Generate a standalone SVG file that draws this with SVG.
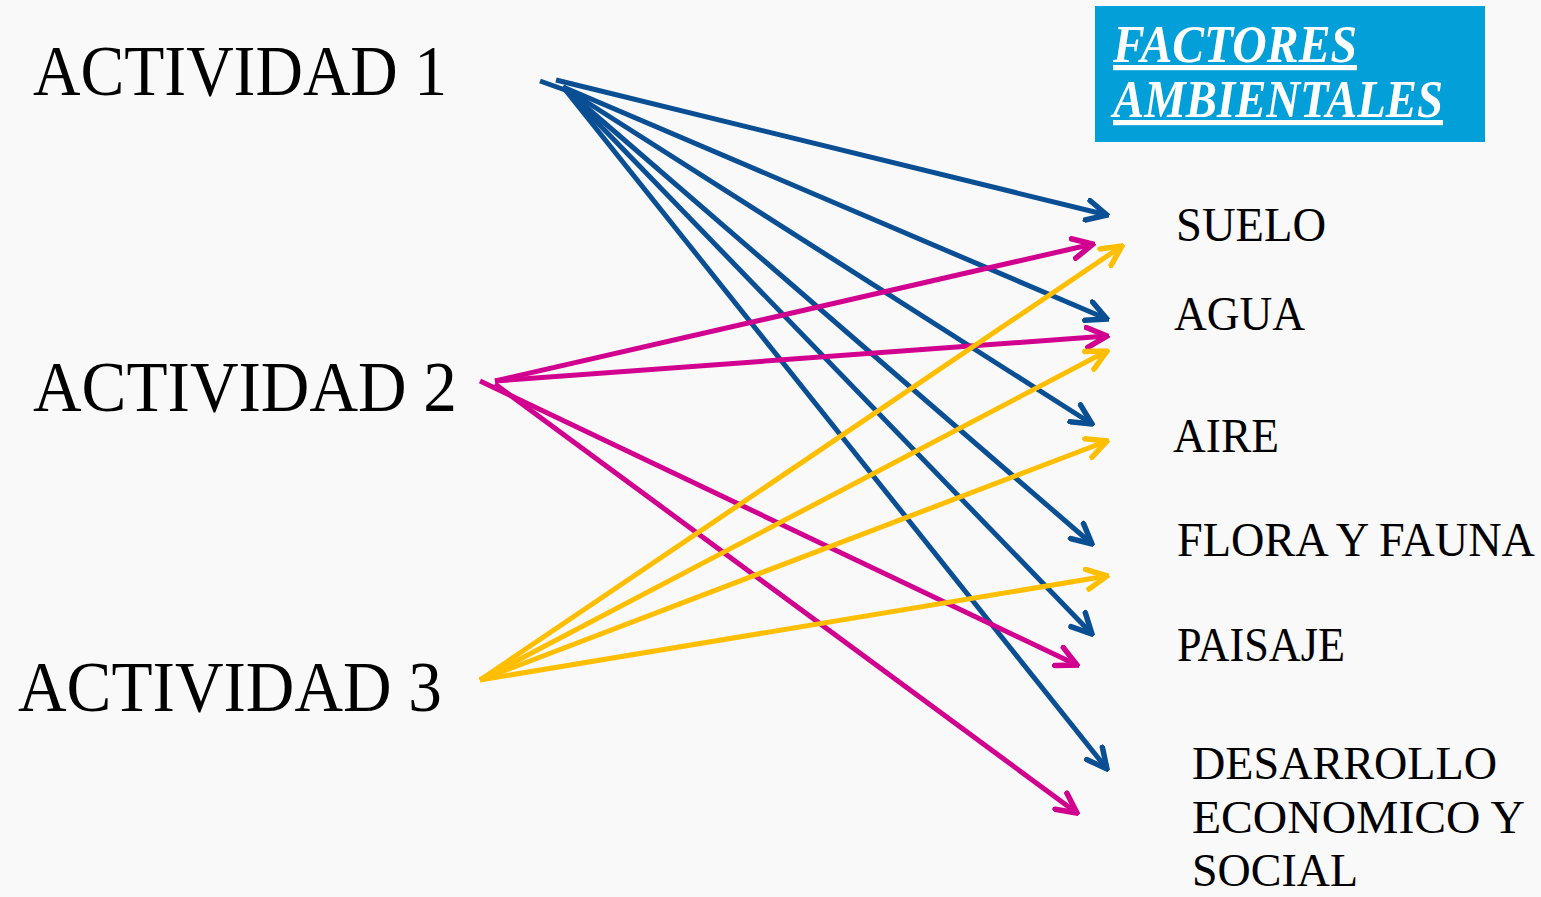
<svg xmlns="http://www.w3.org/2000/svg" width="1541" height="897" viewBox="0 0 1541 897">
<style>
.act{font-family:"Liberation Serif","DejaVu Serif",serif;font-size:72px;fill:#000}
.fac{font-family:"Liberation Serif","DejaVu Serif",serif;font-size:49px;fill:#000}
.des{font-family:"Liberation Serif","DejaVu Serif",serif;font-size:47px;fill:#000}
.title{font-family:"Liberation Serif","DejaVu Serif",serif;font-size:52px;font-weight:bold;font-style:italic;fill:#fff;text-decoration:underline}
.b{stroke:#0a4f93;stroke-width:5;fill:none;marker-end:url(#mb)}
.m{stroke:#d1008f;stroke-width:5;fill:none;marker-end:url(#mm)}
.y{stroke:#ffbf00;stroke-width:5;fill:none;marker-end:url(#my)}
</style>
<defs>
<marker id="mb" viewBox="0 0 10 10" refX="9" refY="5" markerWidth="5" markerHeight="5" orient="auto" markerUnits="strokeWidth"><path d="M1,1 L9,5 L1,9" fill="none" stroke="#0a4f93" stroke-width="2.2" stroke-linecap="round" stroke-linejoin="miter"/></marker>
<marker id="mm" viewBox="0 0 10 10" refX="9" refY="5" markerWidth="5" markerHeight="5" orient="auto" markerUnits="strokeWidth"><path d="M1,1 L9,5 L1,9" fill="none" stroke="#d1008f" stroke-width="2.2" stroke-linecap="round" stroke-linejoin="miter"/></marker>
<marker id="my" viewBox="0 0 10 10" refX="9" refY="5" markerWidth="5" markerHeight="5" orient="auto" markerUnits="strokeWidth"><path d="M1,1 L9,5 L1,9" fill="none" stroke="#ffbf00" stroke-width="2.2" stroke-linecap="round" stroke-linejoin="miter"/></marker>
</defs>
<rect width="1541" height="897" fill="#f9f9f9"/>

<g id="connectors">
<line x1="540" y1="81" x2="568" y2="91" stroke="#0a4f93" stroke-width="5"/>
<line class="b" x1="556" y1="80" x2="1107" y2="215"/>
<line class="b" x1="563" y1="87" x2="1107" y2="319"/>
<line class="b" x1="563" y1="87" x2="1092" y2="424"/>
<line class="b" x1="563" y1="87" x2="1092" y2="544"/>
<line class="b" x1="563" y1="87" x2="1092" y2="634"/>
<line class="b" x1="563" y1="87" x2="1107" y2="769"/>

<line class="m" x1="495" y1="381" x2="1093" y2="244"/>
<line class="m" x1="495" y1="381" x2="1107" y2="336"/>
<line class="m" x1="480" y1="381" x2="1077" y2="665"/>
<line class="m" x1="495" y1="384" x2="1077" y2="813"/>

<line class="y" x1="480" y1="680" x2="1122" y2="246"/>
<line class="y" x1="480" y1="680" x2="1107" y2="351"/>
<line class="y" x1="480" y1="680" x2="1107" y2="441"/>
<line class="y" x1="480" y1="680" x2="1107" y2="576"/>
</g>

<g id="act1"><text class="act" x="33" y="95" textLength="414" lengthAdjust="spacingAndGlyphs">ACTIVIDAD 1</text></g>
<g id="act2"><text class="act" x="33" y="411" textLength="424" lengthAdjust="spacingAndGlyphs">ACTIVIDAD 2</text></g>
<g id="act3"><text class="act" x="18" y="711" textLength="424" lengthAdjust="spacingAndGlyphs">ACTIVIDAD 3</text></g>

<g id="title">
<rect x="1095" y="6" width="390" height="136" fill="#039fd9"/>
<text class="title" x="1113" y="62" textLength="244" lengthAdjust="spacingAndGlyphs">FACTORES</text>
<text class="title" x="1113" y="117" textLength="330" lengthAdjust="spacingAndGlyphs">AMBIENTALES</text>
</g>

<g id="suelo"><text class="fac" x="1176" y="241" textLength="150" lengthAdjust="spacingAndGlyphs">SUELO</text></g>
<g id="agua"><text class="fac" x="1174" y="330" textLength="131" lengthAdjust="spacingAndGlyphs">AGUA</text></g>
<g id="aire"><text class="fac" x="1173" y="452" textLength="106" lengthAdjust="spacingAndGlyphs">AIRE</text></g>
<g id="flora"><text class="fac" transform="translate(1177,556) scale(0.944,1)" x="0" y="0">FLORA Y FAUNA</text></g>
<g id="paisaje"><text class="fac" x="1177" y="661" textLength="168" lengthAdjust="spacingAndGlyphs">PAISAJE</text></g>
<g id="desarrollo">
<text class="des" x="1192" y="779" textLength="305" lengthAdjust="spacingAndGlyphs">DESARROLLO</text>
<text class="des" x="1192" y="833" textLength="333" lengthAdjust="spacingAndGlyphs">ECONOMICO Y</text>
<text class="des" x="1192" y="886" textLength="166" lengthAdjust="spacingAndGlyphs">SOCIAL</text>
</g>
</svg>
